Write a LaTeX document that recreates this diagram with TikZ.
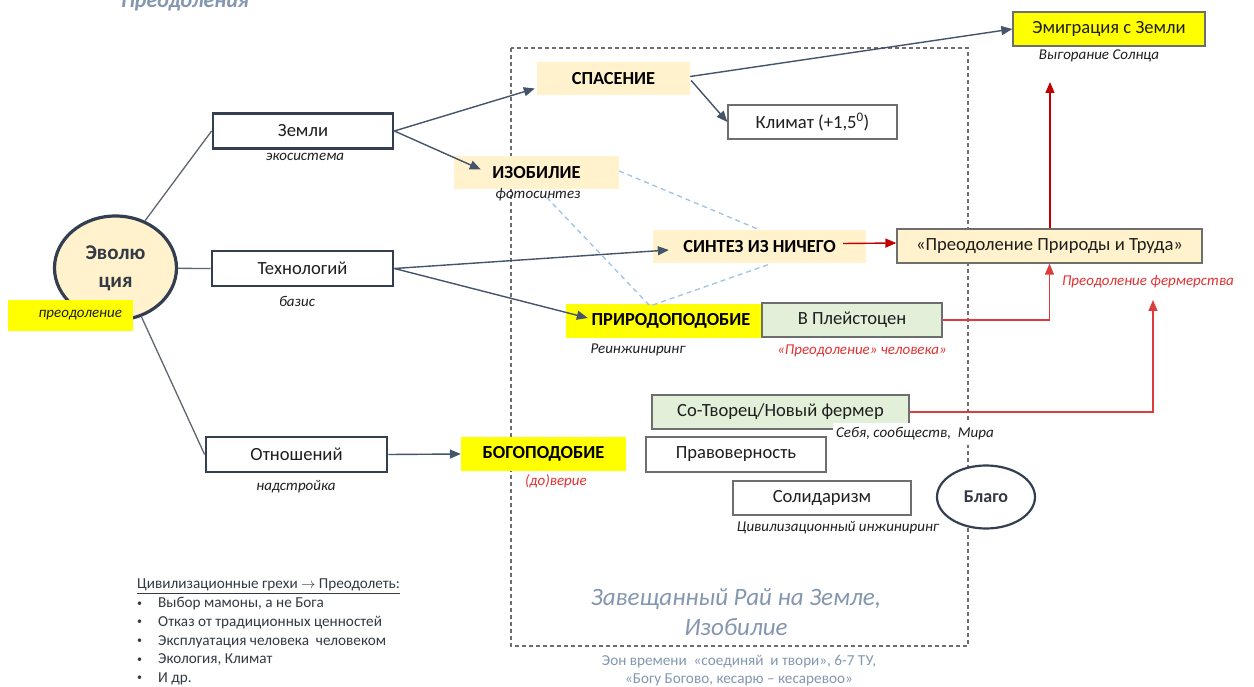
\documentclass[tikz,border=0pt]{standalone}
\usepackage{fontspec}
\setmainfont{Carlito}
\usetikzlibrary{arrows.meta,shapes.geometric,calc}
\definecolor{peach}{HTML}{FFF2CC}
\definecolor{yel}{HTML}{FFFF00}
\definecolor{grn}{HTML}{E2F0D9}
\definecolor{dkb}{HTML}{333F50}
\definecolor{gb}{HTML}{6E6E6E}
\definecolor{arrc}{HTML}{44546A}
\definecolor{conc}{HTML}{5F6670}
\definecolor{redc}{HTML}{C00000}
\definecolor{redl}{HTML}{DC3C3C}
\definecolor{redt}{HTML}{E03232}
\definecolor{bluec}{HTML}{9DC3E6}
\definecolor{bgc}{HTML}{8497B0}
\definecolor{txt}{HTML}{1E1E1E}
\definecolor{txtb}{HTML}{333A44}
\newcommand\fMain{\fontsize{18.6}{21}\selectfont}
\newcommand\fBold{\fontsize{18.4}{21}\selectfont\bfseries}
\newcommand\fLbl{\fontsize{15}{18}\selectfont\itshape}
\newcommand\bulx{\makebox[21pt][l]{\raisebox{1.5pt}{\fontsize{10}{10}\selectfont•}}}
\begin{document}
\begin{tikzpicture}[x=1pt,y=-1pt,
  tbox/.style={draw=dkb, line width=2.8pt, fill=white, minimum height=35pt, inner sep=0pt, font=\fMain, text=txt},
  gbox/.style={draw=gb, line width=1.3pt, fill=white, minimum height=34pt, inner sep=0pt, font=\fMain, text=txt},
  fbox/.style={inner sep=0pt, minimum height=33pt, font=\fBold, text=black},
  lbl/.style={font=\fLbl, text=txt, inner sep=1pt},
  rlbl/.style={font=\fLbl, text=redt, inner sep=1pt},
  arr/.style={draw=arrc, line width=1.4pt, -{Triangle[length=11pt,width=9pt]}},
  conn/.style={draw=conc, line width=1.3pt},
  redarr/.style={draw=redc, line width=1.4pt, -{Triangle[length=11pt,width=9pt]}},
  redarrl/.style={draw=redl, line width=1.3pt, -{Triangle[length=11pt,width=9pt]}},
  bdash/.style={draw=bluec, line width=1.3pt, dash pattern=on 5pt off 4pt}]
\clip (0,0) rectangle (1254,687);
\fill[white] (0,0) rectangle (1254,687);

% title (cut off at the top edge, as in the reference)
\node[anchor=base, font=\fontsize{22}{26}\selectfont\bfseries\itshape, text=bgc, inner sep=0] (title) at (185,8) {Преодоления};

% dashed frame
\draw[draw=gb, line width=1.2pt, dash pattern=on 4pt off 3pt] (511,48) rectangle (968,646);

% evolution
\node[ellipse, draw=dkb, line width=3.2pt, fill=peach, minimum width=122pt, minimum height=104pt, inner sep=0pt, align=center, font=\fontsize{21}{28}\selectfont\bfseries, text=txtb] (evo) at (115.5,268) {Эволю\\ция};
\node[fill=yel, minimum width=125pt, minimum height=31pt, inner xsep=11pt, inner ysep=0pt, text width=103pt, align=right, font=\fLbl, text=txt] (preod) at (70.5,315.5) {преодоление};

% left boxes
\node[tbox, minimum width=180pt] (zemli) at (303,131) {Земли};
\node[tbox, minimum width=181pt] (tech) at (302.5,268.5) {Технологий};
\node[tbox, minimum width=181pt] (otn) at (296.5,454.5) {Отношений};
\node[lbl] (l1) at (305,157) {экосистема};
\node[lbl] (l2) at (297,301) {базис};
\node[lbl] (l3) at (296,487) {надстройка};

% filled boxes
\node[fbox, fill=peach, minimum width=153pt] (spas) at (613.5,78.5) {СПАСЕНИЕ};
\node[fbox, fill=peach, minimum width=165pt] (izob) at (536.5,172.5) {ИЗОБИЛИЕ};
\node[lbl] (l4) at (538,195) {фотосинтез};
\node[fbox, fill=peach, minimum width=213pt] (sintez) at (759.5,246.5) {СИНТЕЗ ИЗ НИЧЕГО};
\node[fbox, fill=yel, minimum width=214pt, minimum height=34pt] (prirod) at (673,321) {\hspace*{-2pt}ПРИРОДОПОДОБИЕ\hspace*{2pt}};
\node[lbl] (l5) at (638,350) {Реинжиниринг};
\node[fbox, fill=yel, minimum width=165pt, minimum height=34pt] (bogo) at (543.5,454) {БОГОПОДОБИЕ};
\node[rlbl] (l6) at (556,481) {(до)верие};

\node[gbox, minimum width=169pt] (klimat) at (812.5,122) {Климат (+1,5\textsuperscript{0})};
\node[gbox, fill=grn, minimum width=180pt] (pleist) at (852,320) {В Плейстоцен};
\node[rlbl] (l7) at (862,351) {«Преодоление» человека»};
\node[gbox, fill=grn, minimum width=257pt] (sotv) at (780.5,412) {Со-Творец/Новый фермер};
\node[lbl, fill=white, inner xsep=3pt, inner ysep=5pt] (l8) at (915,434) {Себя, сообществ,\ \ Мира};
\node[gbox, minimum width=180pt, minimum height=35pt] (pravo) at (736,454.5) {Правоверность};
\node[gbox, minimum width=178pt] (solid) at (822,498) {Солидаризм};
\node[lbl] (l9) at (838,528) {Цивилизационный инжиниринг};
\node[ellipse, draw=dkb, line width=2.2pt, fill=white, minimum width=98pt, minimum height=63pt, inner sep=0pt, font=\fontsize{18}{21}\selectfont\bfseries, text=txtb] (blago) at (986,497) {Благо};

% right
\node[gbox, fill=yel, minimum width=192pt] (emig) at (1109,29) {Эмиграция с Земли};
\node[lbl] (l10) at (1099,56) {Выгорание Солнца};
\node[gbox, fill=peach, minimum width=305pt] (ppt) at (1049.5,246) {«Преодоление Природы и Труда»};
\node[rlbl] (l11) at (1148,282) {Преодоление фермерства};

% bottom texts
\node[align=left, anchor=north west, inner sep=0pt, font=\fontsize{15.2}{18.7}\selectfont, text=txtb] (sins) at (137,579) {\underline{Цивилизационные грехи $\rightarrow$ Преодолеть:}\\
\bulx Выбор мамоны, а не Бога\\
\bulx Отказ от традиционных\ ценностей\\
\bulx Эксплуатация человека\ \ человеком\\
\bulx Экология, Климат\\
\bulx И др.};
\node[align=center, font=\fontsize{25}{30}\selectfont\itshape, text=bgc, inner sep=0pt] (paradise) at (736,612) {Завещанный Рай на Земле,\\Изобилие};
\node[align=center, font=\fontsize{15.2}{18.5}\selectfont, text=bgc, inner sep=0pt] (eon) at (739,670.5) {Эон времени\ \ «соединяй\ \ и твори», 6-7 ТУ,\\«Богу Богово, кесарю – кесаревоо»};

% connectors from evolution
\draw[conn] (evo.58) -- (zemli.west);
\draw[conn] (evo) -- (tech.west);
\draw[conn] (evo.-62) -- (otn.west);

% arrows
\draw[arr] (zemli.east) -- ($(spas.west)+(-2,10)$);
\draw[arr] (zemli.east) -- ($(izob.west)+(27,-3)$);
\draw[arr] (tech.east) -- ($(sintez.west)+(16,3.5)$);
\draw[arr] (tech.east) -- ($(prirod.west)+(22,-3)$);
\draw[arr] (otn.east) -- (bogo.west);
\draw[arr] ($(spas.east)+(0,-2)$) -- (emig.west);
\draw[arr] ($(spas.east)+(1,2)$) -- (klimat.west);

% blue dashed
\coordinate (pmeet) at (650,306);
\draw[bdash] ($(izob.east)+(0,-1.5)$) -- (sintez.north);
\draw[bdash] ($(izob.south)+(10,8)$) -- (pmeet) -- ($(sintez.south)+(10,1)$);

% red arrows
\coordinate (emtip) at (1050,82);
\coordinate (pftip) at (1153,300);
\draw[redarr] ($(sintez.east)+(-23,-3)$) -- ($(ppt.west)+(0,-3)$);
\draw[redarr] (ppt.north -| emtip) -- (emtip);
\draw[redarrl] (pleist.east) -| (ppt.south);
\draw[redarrl] (sotv.east) -| (pftip);
\end{tikzpicture}
\end{document}
